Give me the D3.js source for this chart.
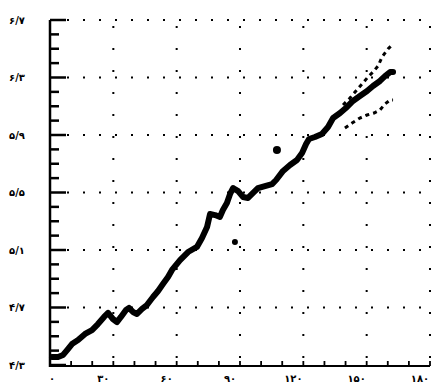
<!DOCTYPE html>
<html>
<head>
<meta charset="utf-8">
<script src="https://cdn.jsdelivr.net/npm/d3@7"></script>
<style>
  html, body { margin: 0; padding: 0; background: #fff; }
  svg { display: block; }
</style>
</head>
<body>
<div id="chart"></div>
<script>
// tick values and their labels (Persian digits)
const xTicks = [0, 30, 60, 90, 120, 150, 180];
const xLabels = ['۰', '۳۰', '۶۰', '۹۰', '۱۲۰', '۱۵۰', '۱۸۰'];
const yTicks = [4.3, 4.7, 5.1, 5.5, 5.9, 6.3, 6.7];
const yLabels = ['۴/۳', '۴/۷', '۵/۱', '۵/۵', '۵/۹', '۶/۳', '۶/۷'];

// main series
const mainX = [0.9, 3.8, 6.2, 8.1, 10.4, 13.3, 16.6, 19.9, 22.7, 25.6, 27.5, 29.8, 31.7, 33.6, 36.0, 37.4,
  39.3, 41.2, 43.6, 45.9, 48.8, 51.2, 53.5, 55.9, 57.8, 61.6, 65.4, 69.6, 72.0, 74.4, 75.8, 78.2, 80.5,
  81.9, 83.8, 85.3, 86.7, 89.1, 91.4, 93.8, 96.2, 98.5, 101.8, 105.2, 107.1, 110.4, 113.7, 117.0, 119.4,
  121.3, 122.7, 125.5, 128.8, 131.7, 134.1, 137.4, 140.7, 143.5, 146.8, 150.2, 153.0, 156.3, 158.7, 161.1, 162.5];
const mainY = [4.356, 4.356, 4.370, 4.404, 4.446, 4.474, 4.516, 4.543, 4.585, 4.634, 4.662, 4.620, 4.599, 4.634, 4.683, 4.697,
  4.669, 4.655, 4.690, 4.717, 4.773, 4.815, 4.863, 4.912, 4.961, 5.030, 5.086, 5.121, 5.183, 5.260, 5.350, 5.343, 5.330,
  5.378, 5.427, 5.490, 5.531, 5.510, 5.469, 5.462, 5.497, 5.531, 5.545, 5.559, 5.587, 5.650, 5.691, 5.726, 5.775,
  5.837, 5.872, 5.886, 5.907, 5.956, 6.018, 6.053, 6.095, 6.137, 6.171, 6.206, 6.241, 6.276, 6.310, 6.338, 6.338];

// upper and lower bands at the end of the series
const upperX = [138.8, 142.1, 144.5, 147.8, 150.6, 153.0, 155.4, 157.3, 160.1, 161.5];
const upperY = [6.109, 6.157, 6.199, 6.255, 6.303, 6.338, 6.380, 6.443, 6.498, 6.519];
const lowerX = [139.7, 143.1, 146.8, 150.2, 153.5, 156.3, 158.7, 161.1, 162.5];
const lowerY = [5.949, 5.983, 6.018, 6.039, 6.053, 6.074, 6.116, 6.143, 6.143];

// stray points
const strayX = [107.5, 87.6];
const strayY = [5.796, 5.156];
const strayR = [4, 3];

const width = 431, height = 390;
const x = d3.scaleLinear([0, 180], [50, 430]);
const y = d3.scaleLinear([4.3, 6.7], [365, 20]);

const svg = d3.select('#chart').append('svg')
  .attr('width', width)
  .attr('height', height);

const ink = '#000';

// dotted grid
const grid = svg.append('g').attr('stroke', ink).attr('stroke-width', 2);
grid.selectAll('line.h')
  .data(yTicks.slice(1))
  .join('line')
  .attr('class', 'h')
  .attr('x1', x(0) + 17).attr('x2', x(180))
  .attr('y1', d => y(d)).attr('y2', d => y(d))
  .attr('stroke-dasharray', '2,14');
grid.selectAll('line.v')
  .data(xTicks.slice(1))
  .join('line')
  .attr('class', 'v')
  .attr('x1', d => x(d)).attr('x2', d => x(d))
  .attr('y1', y(6.7) + 6).attr('y2', y(4.3) - 6)
  .attr('stroke-dasharray', '2,20');

// left axis with ticks pointing in
const minorY = d3.range(43, 68).map(v => v / 10);
const yAxis = svg.append('g').attr('stroke', ink);
yAxis.append('line')
  .attr('x1', x(0)).attr('x2', x(0))
  .attr('y1', y(6.7)).attr('y2', y(4.3) + 2)
  .attr('stroke-width', 2.5);
yAxis.selectAll('line.tick')
  .data(minorY)
  .join('line')
  .attr('class', 'tick')
  .attr('x1', x(0))
  .attr('x2', d => x(0) + (yTicks.some(t => Math.abs(t - d) < 1e-6) ? 16 : 9))
  .attr('y1', d => y(d)).attr('y2', d => y(d))
  .attr('stroke-width', 2.5);

// bottom axis with short ticks pointing up
const minorX = d3.range(10, 190, 10);
const xAxis = svg.append('g').attr('stroke', ink);
xAxis.append('line')
  .attr('x1', x(0) - 1).attr('x2', x(180))
  .attr('y1', y(4.3) + 1).attr('y2', y(4.3) + 1)
  .attr('stroke-width', 2);
xAxis.selectAll('line.tick')
  .data(minorX)
  .join('line')
  .attr('class', 'tick')
  .attr('x1', d => x(d)).attr('x2', d => x(d))
  .attr('y1', y(4.3) + 1).attr('y2', y(4.3) - 4)
  .attr('stroke-width', 1.8);

// labels
const font = "'DejaVu Sans', sans-serif";
svg.append('g')
  .selectAll('text')
  .data(yTicks)
  .join('text')
  .attr('x', 17)
  .attr('y', d => y(d))
  .attr('dy', '0.35em')
  .attr('text-anchor', 'middle')
  .attr('direction', 'ltr')
  .attr('font-family', font)
  .attr('font-weight', 'bold')
  .attr('font-size', 10)
  .text((d, i) => yLabels[i]);

svg.append('g')
  .selectAll('text')
  .data(xTicks)
  .join('text')
  .attr('x', (d, i) => x(d) + (i === 0 ? 2 : -10))
  .attr('y', 378)
  .attr('dy', '0.35em')
  .attr('text-anchor', 'middle')
  .attr('direction', 'ltr')
  .attr('font-family', font)
  .attr('font-weight', 'bold')
  .attr('font-size', 10)
  .text((d, i) => xLabels[i]);

// series
const line = d3.line().x(d => x(d[0])).y(d => y(d[1])).curve(d3.curveLinear);

svg.append('path')
  .datum(upperX.map((v, i) => [v, upperY[i]]))
  .attr('fill', 'none')
  .attr('stroke', ink)
  .attr('stroke-width', 3)
  .attr('stroke-dasharray', '4,4')
  .attr('d', line);

svg.append('path')
  .datum(lowerX.map((v, i) => [v, lowerY[i]]))
  .attr('fill', 'none')
  .attr('stroke', ink)
  .attr('stroke-width', 3)
  .attr('stroke-dasharray', '4,4')
  .attr('d', line);

svg.append('path')
  .datum(mainX.map((v, i) => [v, mainY[i]]))
  .attr('fill', 'none')
  .attr('stroke', ink)
  .attr('stroke-width', 6)
  .attr('stroke-linejoin', 'round')
  .attr('stroke-linecap', 'round')
  .attr('d', line);

svg.append('g')
  .selectAll('circle')
  .data(strayX)
  .join('circle')
  .attr('cx', d => x(d))
  .attr('cy', (d, i) => y(strayY[i]))
  .attr('r', (d, i) => strayR[i])
  .attr('fill', ink);
</script>
</body>
</html>
